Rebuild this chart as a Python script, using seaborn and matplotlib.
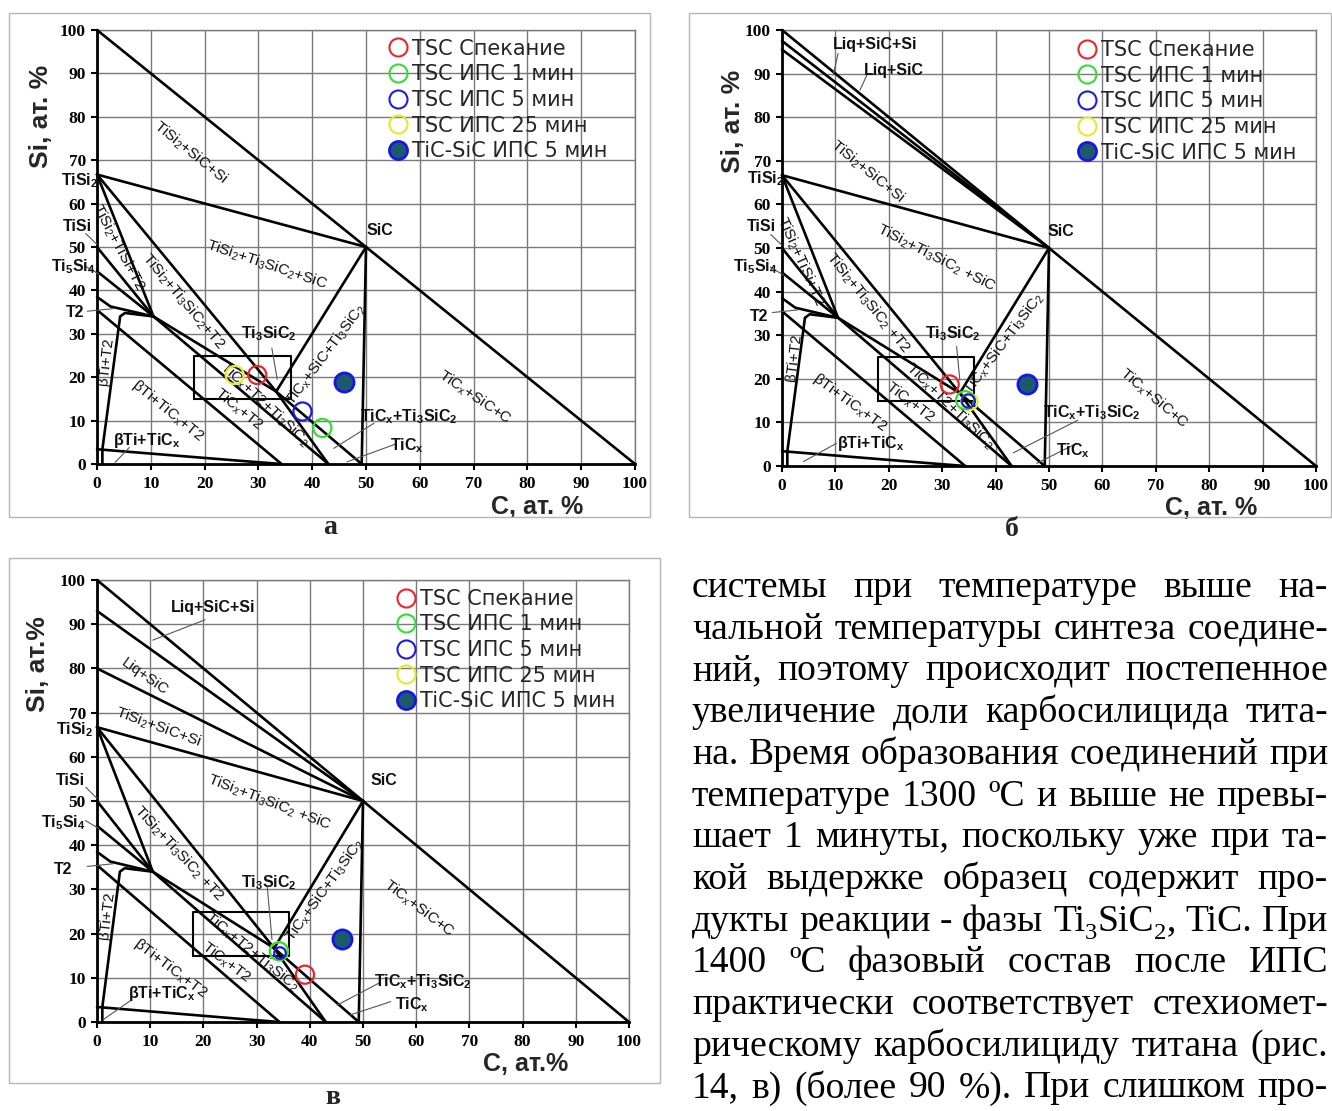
import numpy as np
import pandas as pd
import matplotlib
matplotlib.use("Agg")
import matplotlib.pyplot as plt
import seaborn as sns
from matplotlib.lines import Line2D
from matplotlib.patches import Rectangle

sns.set_theme(style="white")
plt.rcParams["font.family"] = ["DejaVu Sans"]
plt.rcParams["mathtext.default"] = "regular"

# ---------------- data ----------------
series_names = ["TSC Спекание", "TSC ИПС 1 мин", "TSC ИПС 5 мин", "TSC ИПС 25 мин", "TiC-SiC ИПС 5 мин"]
series_edge = ["#e8262a", "#2fe02f", "#1c1ce0", "#e8e82a", "#1515ee"]
series_face = ["none", "none", "none", "none", "#1b5a6a"]
draw_order = [0, 3, 1, 2, 4]

# points (C at.%, Si at.%) for each panel
a_C = [29.8, 41.9, 38.2, 25.6, 45.9]
a_Si = [20.5, 8.3, 12.1, 20.5, 18.8]
b_C = [31.4, 34.3, 34.9, 35.1, 45.9]
b_Si = [18.7, 15.1, 14.9, 14.7, 18.7]
v_C = [39.1, 34.2, 34.4, 34.2, 46.0]
v_Si = [10.7, 16.0, 15.6, 16.0, 18.8]
a_sizes = [170, 170, 170, 170, 190]
b_sizes = [170, 170, 90, 140, 190]
v_sizes = [170, 170, 70, 170, 190]

# phase-diagram tie lines (C, Si) common to all panels
base_lines = [
    [(0, 100), (100, 0)],
    [(0, 66.7), (50, 50)],
    [(0, 66.7), (10.5, 34)],
    [(0, 66.7), (33.3, 16.7)],
    [(0, 50), (10.5, 34)],
    [(0, 44.4), (10.5, 34)],
    [(0, 38.5), (2.5, 36.3), (10.5, 34)],
    [(10.5, 34), (5.2, 34.8), (4.3, 34.0), (1.0, 3.4), (1.0, 0)],
    [(0, 35.5), (34.3, 0)],
    [(0, 3.4), (28, 0.6), (34.3, 0)],
    [(10.5, 34), (33.3, 16.7)],
    [(10.5, 34), (43, 0)],
    [(33.3, 16.7), (43, 0)],
    [(33.3, 16.7), (49.2, 0)],
    [(33.3, 16.7), (50, 50)],
    [(50, 50), (49.2, 0)],
]
box_C = [18, 36, 36, 18, 18]
box_Si = [15, 15, 25, 25, 15]
liq_lines_b = [[(0, 97.5), (50, 50)], [(0, 95.5), (50, 50)]]
liq_lines_v = [[(0, 93), (50, 50)], [(0, 80), (50, 50)]]

# thin pointer lines
ptr_common = [
    [(-2.1, 53.1), (0, 50.6)],
    [(-2.2, 45.6), (0.3, 43.8)],
    [(-1.8, 35.2), (3.0, 35.8)],
]
ptr_a = ptr_common + [[(6.0, 3.8), (3.4, 0.4)], [(51.5, 9.4), (44, 3.6)],
                      [(55.5, 4.6), (46.5, 0.5)], [(32.5, 26.7), (33.5, 19.5)]]
ptr_b = ptr_common + [[(10.2, 5.2), (4.0, 1.0)], [(55.4, 10.5), (43.3, 3.0)],
                      [(55.2, 5.2), (47.7, 0.6)], [(32.7, 27.4), (33.3, 19.7)],
                      [(10.5, 94.6), (9.6, 89.7)], [(15.9, 89.7), (14.6, 86.2)]]
ptr_v = ptr_common + [[(6.5, 5.0), (1.1, 0.5)], [(53.0, 8.8), (45.1, 3.8)],
                      [(55.2, 4.6), (47.6, 1.6)], [(32.0, 30.6), (32.9, 18.6)],
                      [(20.3, 91.0), (10.5, 86.4)]]

# labels: text, C, Si, rotation, style ('r' regular region, 'b' bold)
lab_a = [
    (r"TiSi$_2$+SiC+Si", 17.4, 71.8, -39, "r"),
    (r"TiSi$_2$+TiSi+T2", 4.0, 49.9, -62, "r"),
    (r"TiSi$_2$+Ti$_3$SiC$_2$+SiC", 31.5, 45.9, -18.5, "r"),
    (r"TiSi$_2$+Ti$_3$SiC$_2$+T2", 16.0, 37.6, -50, "r"),
    (r"Ti$_3$SiC$_2$", 31.9, 30.0, 0, "b"),
    (r"TiC$_x$+SiC+Ti$_3$SiC$_2$", 42.5, 25.3, 53, "r"),
    (r"TiC$_x$+SiC+C", 70.3, 15.3, -34, "r"),
    (r"TiC$_x$+Ti$_3$SiC$_2$", 57.9, 11.0, 0, "b"),
    (r"TiC$_x$", 57.7, 4.2, 0, "b"),
    (r"βTi+TiC$_x$", 9.2, 5.4, 0, "b"),
    (r"βTi+TiC$_x$+T2", 13.1, 12.2, -39, "r"),
    (r"TiC$_x$+T2", 26.4, 12.6, -39, "r"),
    (r"TiC$_x$+T2+Ti$_3$SiC$_2$", 31.1, 13.8, -43, "r"),
    (r"βTi+T2", 1.6, 23.7, 83, "r"),
    ("SiC", 52.6, 53.9, 0, "b"),
    (r"TiSi$_2$", -3.3, 65.4, 0, "b"),
    ("TiSi", -3.7, 54.7, 0, "b"),
    (r"Ti$_5$Si$_4$", -4.5, 45.5, 0, "b"),
    ("T2", -4.1, 34.8, 0, "b"),
]
lab_b = [
    ("Liq+SiC+Si", 17.5, 96.7, 0, "b"),
    ("Liq+SiC", 21.0, 90.8, 0, "b"),
    (r"TiSi$_2$+SiC+Si", 16.0, 67.5, -39, "r"),
    (r"TiSi$_2$+TiSi+T2", 3.5, 47.0, -66, "r"),
    (r"TiSi$_2$+Ti$_3$SiC$_2$ +SiC", 28.8, 47.8, -27, "r"),
    (r"TiSi$_2$+Ti$_3$SiC$_2$ +T2", 16.0, 37.5, -51, "r"),
    (r"Ti$_3$SiC$_2$", 31.9, 30.4, 0, "b"),
    (r"TiC$_x$+SiC+Ti$_3$SiC$_2$", 41.6, 28.0, 53, "r"),
    (r"TiC$_x$+SiC+C", 69.6, 15.4, -40, "r"),
    (r"TiC$_x$+Ti$_3$SiC$_2$", 58.0, 12.2, 0, "b"),
    (r"TiC$_x$", 54.5, 3.6, 0, "b"),
    (r"βTi+TiC$_x$", 16.7, 5.1, 0, "b"),
    (r"βTi+TiC$_x$+T2", 12.8, 14.6, -36, "r"),
    (r"TiC$_x$+T2", 24.1, 14.6, -37, "r"),
    (r"TiC$_x$+T2+Ti$_3$SiC$_2$", 31.5, 13.8, -44, "r"),
    (r"βTi+T2", 2.3, 24.9, 83, "r"),
    ("SiC", 52.3, 53.7, 0, "b"),
    (r"TiSi$_2$", -3.1, 65.9, 0, "b"),
    ("TiSi", -3.9, 54.9, 0, "b"),
    (r"Ti$_5$Si$_4$", -5.1, 45.8, 0, "b"),
    ("T2", -4.3, 34.3, 0, "b"),
]
lab_v = [
    ("Liq+SiC+Si", 21.9, 93.8, 0, "b"),
    ("Liq+SiC", 9.0, 78.1, -35, "r"),
    (r"TiSi$_2$+SiC+Si", 11.4, 66.6, -20, "r"),
    (r"TiSi$_2$+Ti$_3$SiC$_2$ +SiC", 32.3, 49.7, -21, "r"),
    (r"TiSi$_2$+Ti$_3$SiC$_2$ +T2", 15.4, 38.1, -47, "r"),
    (r"Ti$_3$SiC$_2$", 32.3, 31.5, 0, "b"),
    (r"TiC$_x$+SiC+Ti$_3$SiC$_2$", 42.8, 29.9, 54, "r"),
    (r"TiC$_x$+SiC+C", 60.5, 25.7, -37, "r"),
    (r"TiC$_x$+Ti$_3$SiC$_2$", 61.3, 9.2, 0, "b"),
    (r"TiC$_x$", 59.2, 3.9, 0, "b"),
    (r"βTi+TiC$_x$", 12.2, 6.4, 0, "b"),
    (r"βTi+TiC$_x$+T2", 13.8, 12.1, -37, "r"),
    (r"TiC$_x$+T2", 24.3, 13.4, -37, "r"),
    (r"TiC$_x$+T2+Ti$_3$SiC$_2$", 29.1, 15.8, -39, "r"),
    (r"βTi+T2", 1.8, 24.1, 83, "r"),
    ("SiC", 54.0, 54.6, 0, "b"),
    (r"TiSi$_2$", -4.3, 66.2, 0, "b"),
    ("TiSi", -5.0, 54.6, 0, "b"),
    (r"Ti$_5$Si$_4$", -6.3, 45.1, 0, "b"),
    ("T2", -6.3, 34.4, 0, "b"),
]

xticks = list(range(0, 101, 10))
yticks = list(range(0, 101, 10))

# paragraph; "_" marks a subscript digit
para_lines = [
    "системы при температуре выше на-",
    "чальной температуры синтеза соедине-",
    "ний, поэтому происходит постепенное",
    "увеличение доли карбосилицида тита-",
    "на. Время образования соединений при",
    "температуре 1300 ºС и выше не превы-",
    "шает 1 минуты, поскольку уже при та-",
    "кой выдержке образец содержит про-",
    "дукты реакции - фазы Ti_3SiC_2, TiC. При",
    "1400 ºС фазовый состав после ИПС",
    "практически соответствует стехиомет-",
    "рическому карбосилициду титана (рис.",
    "14, в) (более 90 %). При слишком про-",
]

# ---------------- figure ----------------
W, H = 1332, 1111
fig = plt.figure(figsize=(W / 100, H / 100), dpi=100)
fig.patch.set_facecolor("white")


def px_axes(x0, x1, ytop, ybot):
    return fig.add_axes([x0 / W, 1 - ybot / H, (x1 - x0) / W, (ybot - ytop) / H])


def frame(x0, y0, x1, y1):
    fig.add_artist(Rectangle((x0 / W, 1 - y1 / H), (x1 - x0) / W, (y1 - y0) / H,
                             transform=fig.transFigure, fill=False, ec="#b5b5b5", lw=1.0))


def draw_panel(ax, extra_lines, ptrs, labels, C, Si, sizes, leg_anchor,
               xlabel, ylabel, xl_pos, yl_pos):
    ax.set_xlim(0, 100)
    ax.set_ylim(0, 100)
    ax.set_xticks(xticks)
    ax.set_yticks(yticks)
    ax.grid(True, color="#7a7a7a", lw=1.0)
    ax.set_axisbelow(True)
    for s in ["top", "right"]:
        ax.spines[s].set_color("#7a7a7a")
        ax.spines[s].set_linewidth(1.0)
    for s in ["left", "bottom"]:
        ax.spines[s].set_color("black")
        ax.spines[s].set_linewidth(2.0)
    ax.tick_params(axis="both", direction="out", length=4, width=1.5, color="black",
                   left=True, bottom=True)
    ax.tick_params(axis="x", pad=5)
    ax.tick_params(axis="y", pad=4)
    ax.set_xticklabels([str(v) for v in xticks], fontfamily="Liberation Serif",
                       fontweight="bold", fontsize=12.5, color="black")
    ax.set_yticklabels([str(v) for v in yticks], fontfamily="Liberation Serif",
                       fontweight="bold", fontsize=12.5, color="black")

    for ln in base_lines + extra_lines:
        xs, ys = zip(*ln)
        ax.plot(xs, ys, color="black", lw=1.9, solid_capstyle="round",
                solid_joinstyle="round", clip_on=False, zorder=3)
    ax.plot(box_C, box_Si, color="black", lw=1.5, clip_on=False, zorder=3)
    for ln in ptrs:
        xs, ys = zip(*ln)
        ax.plot(xs, ys, color="#555555", lw=0.8, clip_on=False, zorder=3)

    for text, cx, sy, rot, st in labels:
        if st == "b":
            ax.text(cx, sy, text, ha="center", va="center", rotation=rot,
                    rotation_mode="anchor", fontsize=11.5, fontweight="bold",
                    family="Liberation Sans", color="#111111", clip_on=False, zorder=4)
        else:
            ax.text(cx, sy, text, ha="center", va="center", rotation=rot,
                    rotation_mode="anchor", fontsize=11, family="Liberation Sans",
                    color="#111111", clip_on=False, zorder=4)

    df = pd.DataFrame({"C": C, "Si": Si, "name": series_names})
    for i in draw_order:
        sub = df.iloc[[i]]
        sns.scatterplot(data=sub, x="C", y="Si", ax=ax, s=sizes[i], marker="o",
                        facecolor=series_face[i], edgecolor=series_edge[i],
                        linewidth=1.6 if i < 4 else 2.0, legend=False, zorder=5,
                        clip_on=False)
    ax.set_xlabel("")
    ax.set_ylabel("")

    handles = []
    for i in range(len(series_names)):
        handles.append(Line2D([], [], marker="o", ls="none", markersize=13,
                              mfc=series_face[i], mec=series_edge[i],
                              mew=1.5 if i < 4 else 2.0, label=series_names[i]))
    ax.legend(handles=handles, loc="upper left", bbox_to_anchor=leg_anchor,
              frameon=False, fontsize=15, borderpad=0, borderaxespad=0,
              handlelength=0.85, handletextpad=0.25, labelspacing=0.27)

    ax.text(xl_pos[0], xl_pos[1], xlabel, transform=ax.transAxes, ha="center",
            va="center", fontsize=18, fontweight="bold", family="Liberation Sans")
    ax.text(yl_pos[0], yl_pos[1], ylabel, transform=ax.transAxes, ha="center",
            va="center", rotation=90, fontsize=19, fontweight="bold",
            family="Liberation Sans")


# panel frames
frame(9, 13, 650, 517)
frame(689, 13, 1331, 517)
frame(9, 558, 660, 1083)

ax_a = px_axes(97, 635, 30, 464)
draw_panel(ax_a, [], ptr_a, lab_a, a_C, a_Si, a_sizes, (0.543, 0.98),
           "C, ат. %", "Si, ат. %", (0.818, -0.098), (-0.105, 0.80))

ax_b = px_axes(782, 1316, 30, 466)
draw_panel(ax_b, liq_lines_b, ptr_b, lab_b, b_C, b_Si, b_sizes, (0.555, 0.977),
           "C, ат. %", "Si, ат. %", (0.803, -0.097), (-0.092, 0.79))

ax_v = px_axes(97, 629, 580, 1022)
draw_panel(ax_v, liq_lines_v, ptr_v, lab_v, v_C, v_Si, v_sizes, (0.565, 0.98),
           "C, ат.%", "Si, ат.%", (0.806, -0.096), (-0.11, 0.81))

# captions
for lbl, x, y in [("а", 330, 528), ("б", 1012, 530), ("в", 333, 1098)]:
    fig.text(x / W, 1 - y / H, lbl, ha="center", va="center", fontsize=20,
             fontweight="bold", family="Liberation Serif")

# ---------------- justified paragraph ----------------
renderer = fig.canvas.get_renderer()
FAM = "Liberation Serif"
x_left, x_right = 692, 1328
base0, pitch = 597, 41.7
fs0 = 24.0
words_all = [ln.split(" ") for ln in para_lines]


def segments(word):
    # split into (text, is_subscript)
    segs, cur, i = [], "", 0
    while i < len(word):
        if word[i] == "_" and i + 1 < len(word):
            if cur:
                segs.append((cur, False))
                cur = ""
            segs.append((word[i + 1], True))
            i += 2
        else:
            cur += word[i]
            i += 1
    if cur:
        segs.append((cur, False))
    return segs


def seg_width(txt, fs):
    t = fig.text(0, 0, txt, fontsize=fs, family=FAM)
    w = t.get_window_extent(renderer).width
    t.remove()
    return w


def word_width(word, fs):
    return sum(seg_width(s, fs * (0.65 if sub else 1.0)) for s, sub in segments(word))


space0 = 0.25 * fs0 * 100 / 72
scales = []
for words in words_all:
    ws = [word_width(w, fs0) for w in words]
    nat = sum(ws) + (len(ws) - 1) * space0
    scales.append((x_right - x_left) / nat)
fs = fs0 * min(scales)

for i, words in enumerate(words_all):
    ws = [word_width(w, fs) for w in words]
    gap = ((x_right - x_left) - sum(ws)) / max(len(ws) - 1, 1)
    x = x_left
    yb = base0 + i * pitch
    for w, wd in zip(words, ws):
        xx = x
        for s, sub in segments(w):
            f = fs * (0.65 if sub else 1.0)
            dy = 0.22 * fs * 100 / 72 if sub else 0.0
            fig.text(xx / W, 1 - (yb + dy) / H, s, fontsize=f, family=FAM,
                     ha="left", va="baseline", color="black")
            xx += seg_width(s, f)
        x += wd + gap

fig.savefig("out.png", dpi=100, facecolor="white")
